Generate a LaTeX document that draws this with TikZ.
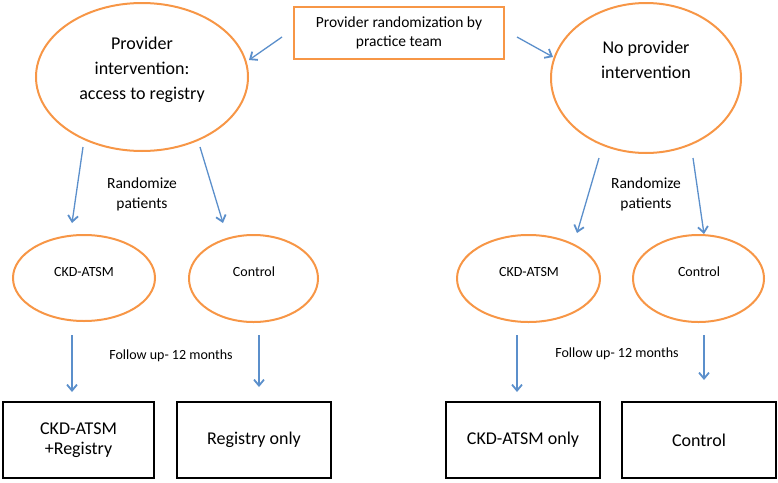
\documentclass[tikz,border=0pt]{standalone}
\usepackage{fontspec}
\setmainfont{Carlito}
\usetikzlibrary{shapes.geometric,arrows.meta}
\definecolor{orng}{HTML}{F79646}
\definecolor{arrblue}{HTML}{5B8FCB}
\begin{document}
\begin{tikzpicture}[x=1pt,y=-1pt,
  oval/.style={ellipse,draw=orng,line width=2pt,inner sep=0pt},
  topbox/.style={rectangle,draw=orng,line width=2pt,inner sep=0pt,minimum width=210pt,minimum height=52pt},
  outbox/.style={rectangle,draw=black,line width=2.2pt,inner sep=0pt,minimum height=76pt,align=center,font=\fontsize{18}{20}\selectfont},
  bigtxt/.style={align=center,inner sep=0pt,font=\fontsize{18}{25}\selectfont},
  midtxt/.style={align=center,inner sep=0pt,font=\fontsize{15.5}{19.5}\selectfont},
  smalltxt/.style={align=center,inner sep=0pt,font=\fontsize{14}{17}\selectfont},
  conn/.style={draw=arrblue,line width=1.3pt,-{Straight Barb[length=6pt,width=10pt,line width=1.8pt]}}]
\useasboundingbox (0,0) rectangle (778,482);

% top box
\node[topbox] (top) at (399,33) {};
\node[midtxt] (toptxt) at (399,33) {Provider randomization by\\practice team};

% big ellipses
\node[oval,minimum width=212pt,minimum height=148pt] (pi) at (142,77) {};
\node[bigtxt] (pitxt) at (142,70) {Provider\\intervention:\\access to registry};
\node[oval,minimum width=190pt,minimum height=150pt] (npi) at (646,78) {};
\node[bigtxt] (npitxt) at (646,60) {No provider\\intervention};

% randomize labels
\node[midtxt] (rand1) at (142,194.5) {Randomize\\patients};
\node[midtxt] (rand2) at (646,194.5) {Randomize\\patients};

% small ellipses
\node[oval,minimum width=142pt,minimum height=86pt] (ck1) at (84,278) {};
\node[smalltxt] (ck1t) at (84,272) {CKD-ATSM};
\node[oval,minimum width=129pt,minimum height=87pt] (co1) at (253.5,278.5) {};
\node[smalltxt] (co1t) at (254,272) {Control};
\node[oval,minimum width=143pt,minimum height=87pt] (ck2) at (528.5,278.5) {};
\node[smalltxt] (ck2t) at (529,272) {CKD-ATSM};
\node[oval,minimum width=131pt,minimum height=87pt] (co2) at (698.5,278.5) {};
\node[smalltxt] (co2t) at (699,272) {Control};

% follow up labels
\node[smalltxt] (fu1) at (171,356) {Follow up- 12 months};
\node[smalltxt] (fu2) at (617,354) {Follow up- 12 months};

% outcome boxes
\node[outbox,minimum width=151pt] (o1) at (78.5,440) {CKD-ATSM\\+Registry};
\node[outbox,minimum width=154pt] (o2) at (254,440) {Registry only};
\node[outbox,minimum width=154pt] (o3) at (523,440) {CKD-ATSM only};
\node[outbox,minimum width=154pt] (o4) at (699,440) {Control};

% connector end points
\coordinate (a1s) at (282,37); \coordinate (a1e) at (249,60);
\coordinate (a2s) at (517,37); \coordinate (a2e) at (553,57);
\coordinate (b1s) at (83,147); \coordinate (b1e) at (72,223);
\coordinate (b2s) at (200,147); \coordinate (b2e) at (223,223);
\coordinate (b3s) at (599,158); \coordinate (b3e) at (577,233);
\coordinate (b4s) at (693,158); \coordinate (b4e) at (704,234);
\coordinate (c1s) at (72,335); \coordinate (c1e) at (72,392);
\coordinate (c2s) at (259,335); \coordinate (c2e) at (259,387);
\coordinate (c3s) at (517,335); \coordinate (c3e) at (517,392);
\coordinate (c4s) at (704,335); \coordinate (c4e) at (704,380);

\draw[conn] (a1s) -- (a1e);
\draw[conn] (a2s) -- (a2e);
\draw[conn] (b1s) -- (b1e);
\draw[conn] (b2s) -- (b2e);
\draw[conn] (b3s) -- (b3e);
\draw[conn] (b4s) -- (b4e);
\draw[conn] (c1s) -- (c1e);
\draw[conn] (c2s) -- (c2e);
\draw[conn] (c3s) -- (c3e);
\draw[conn] (c4s) -- (c4e);
\end{tikzpicture}
\end{document}
